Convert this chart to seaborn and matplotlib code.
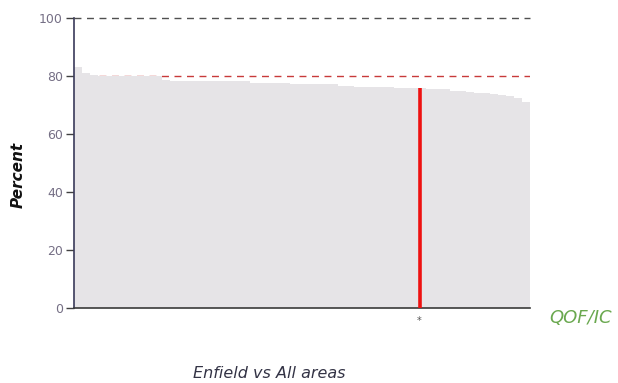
import matplotlib
matplotlib.use("Agg")
import matplotlib.pyplot as plt
import seaborn as sns
import pandas as pd

# Data: percentage for all areas, sorted descending; Enfield highlighted
area_values = [83.0, 81.0, 80.3,
               80.0, 80.0, 80.0, 80.0, 80.0, 80.0, 80.0, 79.9,
               78.5, 78.4, 78.4, 78.4, 78.3, 78.3, 78.3, 78.3, 78.3, 78.3, 78.2,
               77.7, 77.7, 77.7, 77.7, 77.7,
               77.1, 77.1, 77.1, 77.1, 77.1, 77.1,
               76.7, 76.7,
               76.3, 76.3, 76.3, 76.3, 76.3,
               75.8, 75.8, 75.8,
               75.7,
               75.4, 75.4, 75.4, 74.8,
               74.8, 74.6,
               74.2, 74.2,
               73.8, 73.6, 73.1, 72.5, 71.2]
enfield_index = 43
enfield_value = 75.9
reference_lines = [100, 80]
y_ticks = [0, 20, 40, 60, 80, 100]

df = pd.DataFrame({"area": list(range(len(area_values))), "value": area_values})

sns.set_theme(style="white")
plt.rcParams['font.family'] = ['DejaVu Sans']

fig = plt.figure(figsize=(6.18, 3.83), dpi=100)
ax = fig.add_axes([74/618, 1-308/383, (530-74)/618, (308-18)/383])

sns.barplot(data=df, x="area", y="value", color="#e6e4e7", width=1.0,
            linewidth=0, saturation=1, ax=ax, native_scale=False)
for p in ax.patches:
    p.set_antialiased(False)
    p.set_zorder(2)

n = len(area_values)
ax.set_xlim(-0.5, n - 0.5)
ax.set_ylim(0, 100)

ax.axhline(reference_lines[0], color="#505050", lw=1, ls=(0, (5, 4)), clip_on=False, zorder=3)
ax.axhline(reference_lines[1], color="#c83a3a", lw=1, ls=(0, (5, 4)), zorder=1)

ax.vlines(enfield_index - 0.3, 0, enfield_value, color="#ee1111", lw=2.6, zorder=4)
ax.text(enfield_index - 0.3, -4.5, "*", ha="center", va="center", fontsize=7, color="#555555")

ax.set_yticks(y_ticks)
ax.set_yticklabels([str(t) for t in y_ticks], color="#756f85", fontsize=9)
ax.set_xticks([])
ax.set_xlabel("")
ax.set_ylabel("")
ax.tick_params(axis="y", left=True, length=6, width=1, color="#404040", pad=2)

for side in ["top", "right"]:
    ax.spines[side].set_visible(False)
ax.spines["left"].set_color("#3a3a5a")
ax.spines["bottom"].set_color("#3a3a3a")
ax.spines["left"].set_linewidth(1.2)
ax.spines["bottom"].set_linewidth(1.2)

fig.text(18/618, 1-175/383, "Percent", rotation=90, ha="center", va="center",
         fontsize=11, fontweight="bold", fontstyle="italic", color="#111111")
fig.text(269/618, 1-373/383, "Enfield vs All areas", ha="center", va="center",
         fontsize=11.5, fontstyle="italic", color="#333345")
fig.text(581/618, 1-318/383, "QOF/IC", ha="center", va="center",
         fontsize=13, fontstyle="italic", color="#6aa84f")

fig.savefig("out.png", dpi=100)
